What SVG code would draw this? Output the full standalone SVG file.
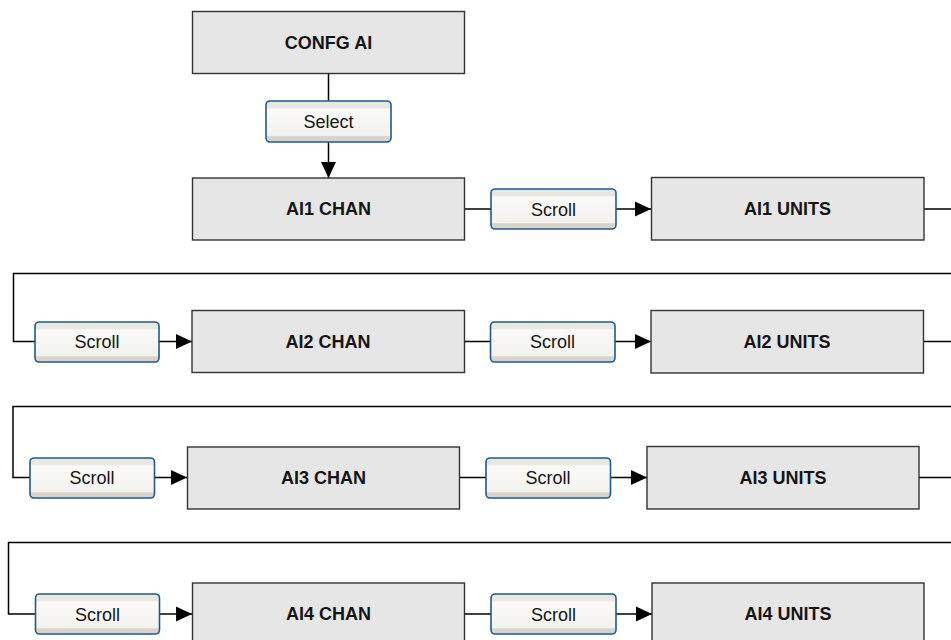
<svg xmlns="http://www.w3.org/2000/svg" width="951" height="640" viewBox="0 0 951 640">
<defs>
<linearGradient id="btn" x1="0" y1="0" x2="0" y2="1">
<stop offset="0" stop-color="#e8e7e2"/>
<stop offset="0.16" stop-color="#e8e7e2"/>
<stop offset="0.2" stop-color="#fafaf8"/>
<stop offset="0.84" stop-color="#f3f2ef"/>
<stop offset="0.87" stop-color="#d8d4cb"/>
<stop offset="1" stop-color="#d8d4cb"/>
</linearGradient>
<marker id="arr" markerUnits="userSpaceOnUse" markerWidth="16" markerHeight="16" viewBox="0 0 15 14" refX="15" refY="7" orient="auto">
<path d="M0,0 L15,7 L0,14 Z" fill="#000"/>
</marker>
<style>
.box{fill:#e6e6e6;stroke:#333;stroke-width:1.4}
.btn{fill:url(#btn);stroke:#1f5a8c;stroke-width:1.6}
.lbl{font-family:"Liberation Sans",Arial,sans-serif;font-size:18px;font-weight:bold;fill:#151515;text-anchor:middle}
.bt{font-family:"Liberation Sans",Arial,sans-serif;font-size:18px;fill:#151515;text-anchor:middle}
.ln{fill:none;stroke:#000;stroke-width:1.5}
.ar{fill:none;stroke:#000;stroke-width:1.5;marker-end:url(#arr)}
</style>
</defs>
<rect width="951" height="640" fill="#fff"/>
<g id="connectors">
<line class="ln" x1="328.5" y1="73" x2="328.5" y2="101"/>
<line class="ar" x1="328.5" y1="142" x2="328.5" y2="178"/>
<line class="ln" x1="465" y1="209" x2="491" y2="209"/>
<line class="ar" x1="616" y1="209" x2="651" y2="209"/>
<polyline class="ln" points="924,209 960,209 960,273.5 13.5,273.5 13.5,341.5 35,341.5"/>
<line class="ar" x1="159" y1="341.5" x2="192" y2="341.5"/>
<line class="ln" x1="465" y1="341.5" x2="490" y2="341.5"/>
<line class="ar" x1="615" y1="341.5" x2="651" y2="341.5"/>
<polyline class="ln" points="924,341.5 960,341.5 960,406.5 13,406.5 13,477.5 30,477.5"/>
<line class="ar" x1="154" y1="477.5" x2="187" y2="477.5"/>
<line class="ln" x1="460" y1="477.5" x2="486" y2="477.5"/>
<line class="ar" x1="610" y1="477.5" x2="647" y2="477.5"/>
<polyline class="ln" points="919,477.5 960,477.5 960,542.5 8.5,542.5 8.5,614 35,614"/>
<line class="ar" x1="159" y1="614" x2="192" y2="614"/>
<line class="ln" x1="465" y1="614" x2="491" y2="614"/>
<line class="ar" x1="616" y1="614" x2="652" y2="614"/>
</g>
<g id="confg-ai"><rect class="box" x="192.5" y="11.5" width="272" height="62"/><text class="lbl" x="328.5" y="49">CONFG AI</text></g>
<g id="btn-select"><rect class="btn" x="266" y="101" width="125" height="41" rx="4"/><text class="bt" x="328.5" y="128">Select</text></g>
<g id="ai1-chan"><rect class="box" x="192.5" y="178" width="272" height="62"/><text class="lbl" x="328.5" y="215">AI1 CHAN</text></g>
<g id="btn-scroll-1"><rect class="btn" x="491" y="189" width="125" height="40" rx="4"/><text class="bt" x="553.5" y="215.5">Scroll</text></g>
<g id="ai1-units"><rect class="box" x="651.5" y="177.5" width="272.5" height="62.5"/><text class="lbl" x="787.5" y="215">AI1 UNITS</text></g>
<g id="btn-scroll-2"><rect class="btn" x="35" y="322" width="124" height="40" rx="4"/><text class="bt" x="97" y="348">Scroll</text></g>
<g id="ai2-chan"><rect class="box" x="192" y="310.5" width="272.5" height="62"/><text class="lbl" x="328" y="347.5">AI2 CHAN</text></g>
<g id="btn-scroll-3"><rect class="btn" x="490.5" y="322" width="124.5" height="40" rx="4"/><text class="bt" x="552.5" y="348">Scroll</text></g>
<g id="ai2-units"><rect class="box" x="651" y="310.5" width="272.5" height="62.5"/><text class="lbl" x="787" y="347.5">AI2 UNITS</text></g>
<g id="btn-scroll-4"><rect class="btn" x="30" y="458" width="124.5" height="40" rx="4"/><text class="bt" x="92" y="484">Scroll</text></g>
<g id="ai3-chan"><rect class="box" x="187.5" y="447" width="272" height="62"/><text class="lbl" x="323.5" y="484">AI3 CHAN</text></g>
<g id="btn-scroll-5"><rect class="btn" x="486" y="458" width="124.5" height="40" rx="4"/><text class="bt" x="548" y="484">Scroll</text></g>
<g id="ai3-units"><rect class="box" x="647" y="446.5" width="272" height="62.5"/><text class="lbl" x="783" y="484">AI3 UNITS</text></g>
<g id="btn-scroll-6"><rect class="btn" x="35.5" y="594" width="124" height="40" rx="4"/><text class="bt" x="97.5" y="620.5">Scroll</text></g>
<g id="ai4-chan"><rect class="box" x="192.5" y="583" width="272" height="62"/><text class="lbl" x="328.5" y="620">AI4 CHAN</text></g>
<g id="btn-scroll-7"><rect class="btn" x="491" y="594" width="125" height="40" rx="4"/><text class="bt" x="553.5" y="620.5">Scroll</text></g>
<g id="ai4-units"><rect class="box" x="652" y="583" width="272" height="62"/><text class="lbl" x="788" y="620">AI4 UNITS</text></g>
</svg>
